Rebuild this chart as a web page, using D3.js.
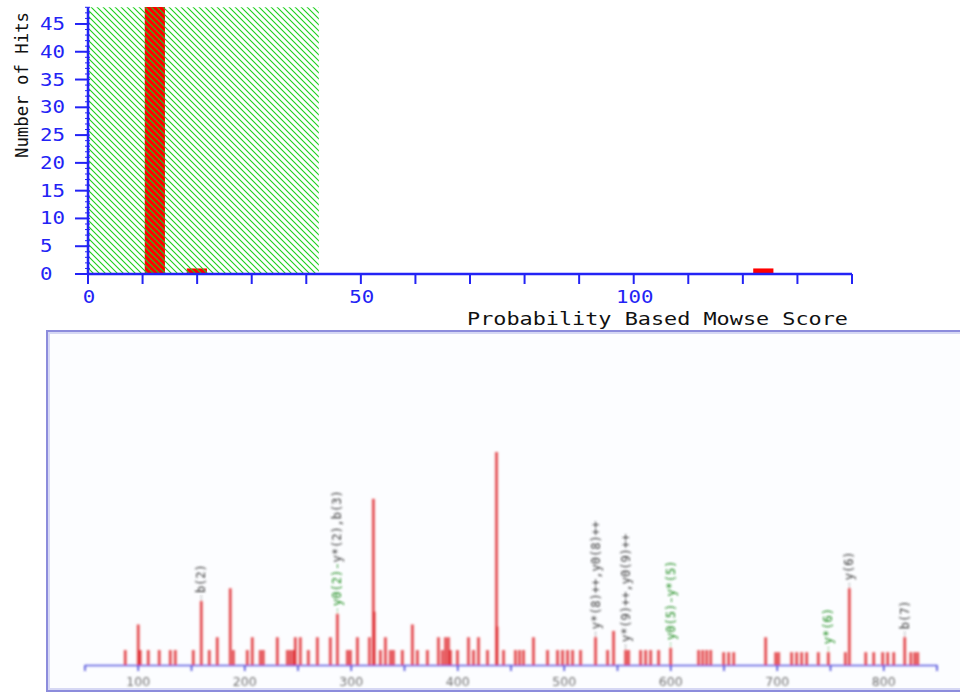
<!DOCTYPE html>
<html>
<head>
<meta charset="utf-8">
<script src="https://cdn.jsdelivr.net/npm/d3@7"></script>
<style>
body{margin:0;background:#fff;}
svg{display:block;}
</style>
</head>
<body>
<svg id="chart" width="960" height="693"></svg>
<script>
// ---- score histogram (top) ----
var binStarts = [10.4, 18.1, 121.9];
var binWidth = 3.7;
var hitCounts = [49, 1, 1];
var threshold = 42.3;
var scoreTicks = d3.range(0, 141, 10);
var scoreLabels = [0, 50, 100];
var hitLabels = [0, 5, 10, 15, 20, 25, 30, 35, 40, 45];
var hitMinor = d3.range(0, 49, 1);

// ---- MS/MS spectrum (bottom) ----
var peakMz = [87.8, 100, 101.9, 109.4, 119.7, 130.1, 134.8, 151.7, 159.2, 166.7,
  174.2, 186.4, 189.3, 202.4, 207.1, 214.6, 217.4, 230.6, 240, 242.8,
  245.6, 247.5, 252.2, 259.7, 268.2, 280.4, 287, 296.4, 299.2, 305.8,
  317.1, 320.8, 321.6, 327.4, 332.1, 336.8, 339.6, 348, 357.4, 362.1,
  371.5, 381.9, 385.6, 388.5, 391.3, 393.2, 399.7, 410.1, 414.8, 419.5,
  427.9, 436.4, 437, 443, 454.2, 458, 461.7, 471.1, 484.3, 493.7,
  498.4, 503.1, 507.8, 515.3, 529.4, 540.7, 546.3, 557.6, 560.4, 571.7,
  576.4, 581.1, 588.6, 599.9, 626.2, 630, 633.7, 637.5, 649.7, 654.4,
  659.1, 689.1, 698.5, 701.3, 713.5, 718.2, 722.9, 727.6, 738.6, 748,
  764, 767.7, 783.1, 790.6, 799, 803.7, 809.4, 819.7, 825.4, 829.1, 831.9];
var peakInt = [7, 19, 7, 7, 7, 7, 7, 7, 30, 7,
  13, 36, 7, 7, 13, 7, 7, 13, 7, 7,
  7, 13, 13, 7, 13, 13, 24, 7, 7, 13,
  13, 78, 25, 7, 13, 7, 7, 7, 19, 7,
  7, 13, 7, 13, 13, 7, 7, 13, 7, 13,
  7, 100, 18, 7, 7, 7, 7, 13, 7, 7,
  7, 7, 7, 7, 13, 7, 16, 7, 7, 7,
  7, 7, 7, 8, 7, 7, 7, 7, 6, 6,
  6, 13, 6, 6, 6, 6, 6, 6, 6, 6,
  6, 36, 6, 6, 6, 6, 6, 13, 6, 6, 6];
var mzTicks = d3.range(50, 851, 50);
var mzLabels = [100, 200, 300, 400, 500, 600, 700, 800];

// annotations: m/z, pieces of text with ion kind
var annMz = [159.2, 287, 529.4, 557.6, 599.9, 748, 767.7, 819.7];
var annParts = [
  [["b(2)", "frag"]],
  [["y0(2)-", "loss"], ["y*(2),b(3)", "frag"]],
  [["y*(8)++,y0(8)++", "frag"]],
  [["y*(9)++,y0(9)++", "frag"]],
  [["y0(5)-y*(5)", "loss"]],
  [["y*(6)", "loss"]],
  [["y(6)", "frag"]],
  [["b(7)", "frag"]]
];

var svg = d3.select("#chart");
var defs = svg.append("defs");

var hatch = defs.append("pattern")
  .attr("id", "hatch")
  .attr("patternUnits", "userSpaceOnUse")
  .attr("width", 6).attr("height", 6);
hatch.append("path")
  .attr("d", "M-1,-1 L7,7 M-1,5 L1,7 M5,-1 L7,1")
  .attr("stroke", "#1ccf1c").attr("stroke-width", 1.1);

defs.append("clipPath").attr("id", "plotClip")
  .append("rect").attr("x", 88).attr("y", 7).attr("width", 770).attr("height", 267);

defs.append("filter").attr("id", "soft")
  .append("feGaussianBlur").attr("stdDeviation", 0.8);

var blue = "#2323f5";
var mono = "'DejaVu Sans Mono', 'Liberation Mono', monospace";

// ---------- top chart ----------
var x = d3.scaleLinear().domain([0, 140]).range([88, 852]);
var y = d3.scaleLinear().domain([0, 48]).range([274, 7.3]);

var hist = svg.append("g");

hist.append("g").attr("clip-path", "url(#plotClip)")
  .selectAll("rect.bar")
  .data(binStarts)
  .enter().append("rect")
    .attr("class", "bar")
    .attr("x", function(d){ return x(d); })
    .attr("width", function(d){ return x(d + binWidth) - x(d); })
    .attr("y", function(d, i){ return y(hitCounts[i]); })
    .attr("height", function(d, i){ return y(0) - y(hitCounts[i]); })
    .attr("fill", "#ff0000");

hist.append("rect")
  .attr("x", x(0)).attr("y", y(48))
  .attr("width", x(threshold) - x(0))
  .attr("height", y(0) - y(48))
  .attr("fill", "url(#hatch)");

// y axis
hist.append("line")
  .attr("x1", x(0)).attr("x2", x(0))
  .attr("y1", y(48)).attr("y2", y(0))
  .attr("stroke", blue).attr("stroke-width", 2.5);
hist.selectAll("line.ymin")
  .data(hitMinor)
  .enter().append("line")
    .attr("class", "ymin")
    .attr("x1", x(0) - 3).attr("x2", x(0) + 2)
    .attr("y1", function(d){ return y(d); })
    .attr("y2", function(d){ return y(d); })
    .attr("stroke", blue).attr("stroke-width", 1);
hist.selectAll("line.ymaj")
  .data(hitLabels)
  .enter().append("line")
    .attr("class", "ymaj")
    .attr("x1", 75).attr("x2", x(0))
    .attr("y1", function(d){ return y(d); })
    .attr("y2", function(d){ return y(d); })
    .attr("stroke", blue).attr("stroke-width", 2);
hist.selectAll("text.ylab")
  .data(hitLabels)
  .enter().append("text")
    .attr("class", "ylab")
    .attr("x", 40)
    .attr("y", function(d){ return y(d) + 6; })
    .attr("font-family", mono).attr("font-size", 17)
    .attr("fill", blue)
    .attr("textLength", function(d){ return String(d).length * 12.5; })
    .attr("lengthAdjust", "spacingAndGlyphs")
    .text(function(d){ return d; });

// x axis
hist.append("line")
  .attr("x1", x(0)).attr("x2", x(140))
  .attr("y1", y(0)).attr("y2", y(0))
  .attr("stroke", blue).attr("stroke-width", 2.5);
hist.selectAll("line.xt")
  .data(scoreTicks)
  .enter().append("line")
    .attr("class", "xt")
    .attr("x1", function(d){ return x(d); })
    .attr("x2", function(d){ return x(d); })
    .attr("y1", y(0)).attr("y2", y(0) + 10)
    .attr("stroke", blue).attr("stroke-width", 2);
hist.selectAll("text.xlab")
  .data(scoreLabels)
  .enter().append("text")
    .attr("class", "xlab")
    .attr("x", function(d){ return x(d) + 1; })
    .attr("y", 303)
    .attr("text-anchor", "middle")
    .attr("font-family", mono).attr("font-size", 17)
    .attr("fill", blue)
    .attr("textLength", function(d){ return String(d).length * 12.5; })
    .attr("lengthAdjust", "spacingAndGlyphs")
    .text(function(d){ return d; });

hist.append("text")
  .attr("x", 467).attr("y", 325)
  .attr("font-family", mono).attr("font-size", 18)
  .attr("fill", "#111")
  .attr("textLength", 381).attr("lengthAdjust", "spacingAndGlyphs")
  .text("Probability Based Mowse Score");

hist.append("text")
  .attr("transform", "translate(28,158) rotate(-90)")
  .attr("font-family", mono).attr("font-size", 18)
  .attr("fill", "#111")
  .attr("textLength", 146).attr("lengthAdjust", "spacingAndGlyphs")
  .text("Number of Hits");

// ---------- bottom chart ----------
var frame = svg.append("g");
frame.append("rect")
  .attr("x", 47).attr("y", 331).attr("width", 930).attr("height", 360)
  .attr("fill", "#fcfdff").attr("stroke", "#8c8cdc").attr("stroke-width", 2);
frame.append("rect")
  .attr("x", 49).attr("y", 333).attr("width", 926).attr("height", 356)
  .attr("fill", "none").attr("stroke", "#d6d8f4").attr("stroke-width", 2);

var mx = d3.scaleLinear().domain([50, 850]).range([85, 937]);
var my = d3.scaleLinear().domain([0, 100]).range([665, 452]);

var spec = svg.append("g").attr("filter", "url(#soft)");

spec.append("line")
  .attr("x1", mx(50)).attr("x2", mx(850))
  .attr("y1", my(0) + 0.5).attr("y2", my(0) + 0.5)
  .attr("stroke", "#5858e0").attr("stroke-width", 1.3);
spec.selectAll("line.mt")
  .data(mzTicks)
  .enter().append("line")
    .attr("class", "mt")
    .attr("x1", function(d){ return mx(d); })
    .attr("x2", function(d){ return mx(d); })
    .attr("y1", my(0)).attr("y2", my(0) + 6)
    .attr("stroke", "#4848d8").attr("stroke-width", 1.6);
spec.selectAll("text.ml")
  .data(mzLabels)
  .enter().append("text")
    .attr("class", "ml")
    .attr("x", function(d){ return mx(d); })
    .attr("y", 686)
    .attr("text-anchor", "middle")
    .attr("font-family", "'DejaVu Sans', sans-serif").attr("font-size", 12.5)
    .attr("fill", "#707070")
    .text(function(d){ return d; });

// soft pink halo under each peak, then the peak itself
spec.selectAll("line.halo")
  .data(peakMz)
  .enter().append("line")
    .attr("class", "halo")
    .attr("x1", function(d){ return mx(d); })
    .attr("x2", function(d){ return mx(d); })
    .attr("y1", my(0))
    .attr("y2", function(d, i){ return my(peakInt[i]); })
    .attr("stroke", "#f7a0a0").attr("stroke-width", 4)
    .attr("stroke-opacity", 0.6);
spec.selectAll("line.peak")
  .data(peakMz)
  .enter().append("line")
    .attr("class", "peak")
    .attr("x1", function(d){ return mx(d); })
    .attr("x2", function(d){ return mx(d); })
    .attr("y1", my(0))
    .attr("y2", function(d, i){ return my(peakInt[i]); })
    .attr("stroke", "#dc1a22").attr("stroke-width", 2)
    .attr("stroke-opacity", 0.9);

var kindColor = { frag: "#3a3a3a", loss: "#1a8a1a" };

var ann = spec.selectAll("g.ann")
  .data(annMz)
  .enter().append("g")
    .attr("class", "ann");

ann.append("line")
  .attr("x1", function(d){ return mx(d); })
  .attr("x2", function(d){ return mx(d); })
  .attr("y1", function(d){ return my(peakInt[peakMz.indexOf(d)]) - 1; })
  .attr("y2", function(d){ return my(peakInt[peakMz.indexOf(d)]) - 7; })
  .attr("stroke", function(d, i){ return kindColor[annParts[i][0][1]]; })
  .attr("stroke-width", 1)
  .attr("stroke-dasharray", "1,2");

ann.append("text")
  .attr("transform", function(d){
    var yTop = my(peakInt[peakMz.indexOf(d)]) - 8;
    return "translate(" + (mx(d) + 4) + "," + yTop + ") rotate(-90)";
  })
  .attr("font-family", mono).attr("font-size", 12)
  .each(function(d, i){
    var t = d3.select(this);
    annParts[i].forEach(function(p){
      t.append("tspan").attr("fill", kindColor[p[1]]).text(p[0]);
    });
  });
</script>
</body>
</html>
